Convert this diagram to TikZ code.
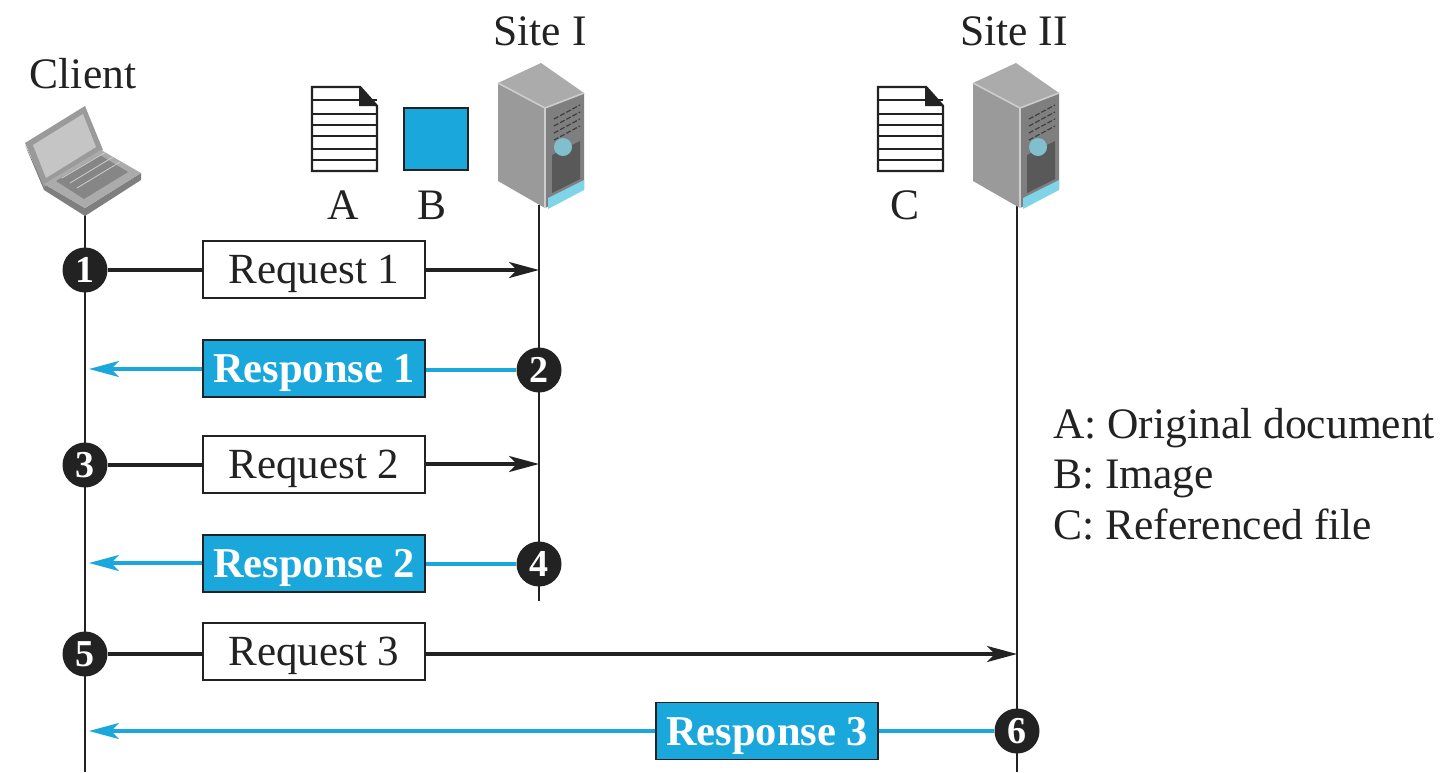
\documentclass[tikz,border=0pt]{standalone}
\usepackage{fontspec}
\setmainfont{Liberation Serif}
\usetikzlibrary{arrows.meta}
\definecolor{cy}{HTML}{1AA7DC}
\definecolor{ink}{HTML}{222222}
\definecolor{gA}{HTML}{ABABAB}
\definecolor{gB}{HTML}{9A9A9A}
\definecolor{gC}{HTML}{CDCDCD}
\definecolor{gD}{HTML}{7F7F7F}
\definecolor{lcy}{HTML}{7FD4E8}
\tikzset{
  x=1pt,y=-1pt,
  txt/.style={font=\fontsize{43.5}{46}\selectfont,text=ink,inner sep=0pt},
  reqbox/.style={draw=ink,line width=1.8pt,fill=white,minimum width=222pt,minimum height=57pt,font=\fontsize{43}{46}\selectfont,text=ink,inner sep=0pt,text height=28pt,text depth=0pt},
  resbox/.style={draw=ink,line width=1.8pt,fill=cy,minimum width=222pt,minimum height=57pt,font=\bfseries\fontsize{42.5}{46}\selectfont,text=white,inner sep=0pt,text height=28pt,text depth=0pt},
  numdot/.style={circle,fill=ink,minimum size=45pt,inner sep=0pt,font=\bfseries\fontsize{38}{40}\selectfont,text=white},
  life/.style={draw=ink,line width=1.7pt},
  blk/.style={draw=ink,line width=3.4pt},
  blu/.style={draw=cy,line width=3.6pt},
  blktip/.style={-{Stealth[length=30pt,width=16pt,inset=8pt]}},
  blutip/.style={-{Stealth[length=30pt,width=16pt,inset=8pt]}},
  docline/.style={draw=ink,line width=2pt},
}
\newcommand{\serverIcon}[2]{%
  \begin{scope}[shift={(#1,#2)}]
    \fill[gB] (0,20) -- (47,45) -- (47,145) -- (0,118) -- cycle;
    \fill[gA] (0,20) -- (43,0) -- (86,30) -- (47,45) -- cycle;
    \fill[gD] (47,45) -- (86,30) -- (86,126) -- (47,145) -- cycle;
    \draw[gC,line width=1.6pt] (0,20) -- (47,45) -- (86,30);
    \draw[gC,line width=1.6pt] (47,45) -- (47,145);
    \fill[ink!75] (54,92) -- (82,78) -- (82,116) -- (54,130) -- cycle;
    \fill[lcy!75!gray] (65,84) circle (9pt);
    \fill[lcy] (50,135) -- (86,117) -- (86,127) -- (50,146) -- cycle;
    \foreach \k in {0,7,14,21}{\draw[gD!50!black,line width=1.2pt,dash pattern=on 5pt off 2pt] (56,56+\k) -- (82,42+\k);}
  \end{scope}}
\newcommand{\docIcon}[2]{%
  \begin{scope}[shift={(#1,#2)}]
    \foreach \yy in {13,27,38,49,62,73}{\draw[docline] (0,\yy) -- (65,\yy);}
    \draw[docline,line width=2.4pt,fill=none] (0,0) -- (48,0) -- (65,19) -- (65,84) -- (0,84) -- cycle;
    \fill[ink] (47,0) -- (65,19) -- (47,19) -- cycle;
  \end{scope}}
\begin{document}
\begin{tikzpicture}
\useasboundingbox[fill=white] (0,0) rectangle (1444,772);

% lifelines ends
\coordinate (c0) at (85,212);
\coordinate (c1) at (85,772);
\coordinate (s0) at (539,205);
\coordinate (s1) at (539,601);
\coordinate (t0) at (1017,205);
\coordinate (t1) at (1017,772);
\draw[life] (c0) -- (c1);
\draw[life] (s0) -- (s1);
\draw[life] (t0) -- (t1);

% laptop
\fill[gD] (25,145) -- (44,190) -- (85,216) -- (141,180) -- (141,173) -- (85,208) -- (44,184) -- cycle;
\fill[gB] (25,143) -- (85,106) -- (103,150) -- (44,187) -- cycle;
\fill[gC!90!gray] (33,145) -- (83,114) -- (96,147) -- (46,178) -- cycle;
\fill[gA] (44,184) -- (101,150) -- (141,173) -- (85,208) -- cycle;
\fill[gD!75!gB] (56,181) -- (100,155) -- (128,172) -- (84,199) -- cycle;
\draw[gC,line width=.8pt] (62,178) -- (106,152) (70,183) -- (113,157) (77,188) -- (120,162);

% servers and files
\serverIcon{498}{63}
\serverIcon{973}{63}
\docIcon{312}{87}
\docIcon{878}{87}
\node[draw=ink,line width=2.2pt,fill=cy,minimum width=64pt,minimum height=62pt,inner sep=0pt] (imgB) at (436,139) {};

% labels
\node[txt,anchor=base] (lclient) at (83,88) {Client};
\node[txt,anchor=base] (lsite1) at (540,45) {Site I};
\node[txt,anchor=base] (lsite2) at (1014,45) {Site II};
\node[txt,anchor=base] (la) at (343,219) {A};
\node[txt,anchor=base] (lb) at (432,219) {B};
\node[txt,anchor=base] (lc) at (905,219) {C};
\node[txt,anchor=base west] (k1) at (1053,438) {A: Original document};
\node[txt,anchor=base west] (k2) at (1053,488) {B: Image};
\node[txt,anchor=base west] (k3) at (1053,539) {C: Referenced file};

% step dots
\node[numdot] (n1) at (85,270) {1};
\node[numdot] (n2) at (539,370) {2};
\node[numdot] (n3) at (85,465) {3};
\node[numdot] (n4) at (539,564) {4};
\node[numdot] (n5) at (85,654) {5};
\node[numdot] (n6) at (1017,731) {6};

% message boxes
\node[reqbox] (q1) at (314,269.5) {Request 1};
\node[resbox] (r1) at (314,368.5) {Response 1};
\node[reqbox] (q2) at (314,464.5) {Request 2};
\node[resbox] (r2) at (314,563.5) {Response 2};
\node[reqbox] (q3) at (314,651.5) {Request 3};
\node[resbox] (r3) at (767,731) {Response 3};

% arrow ends on lifelines
\coordinate (a1) at (539,270);
\coordinate (b1) at (89,369);
\coordinate (a2) at (539,464);
\coordinate (b2) at (89,563);
\coordinate (a3) at (1017,654);
\coordinate (b3) at (89,731);

% connectors
\draw[blk] (n1) -- (q1.west |- n1);
\draw[blk,blktip] (q1.east |- a1) -- (a1);
\draw[blu] (n2) -- (r1.east |- n2);
\draw[blu,blutip] (r1.west |- b1) -- (b1);
\draw[blk] (n3) -- (q2.west |- n3);
\draw[blk,blktip] (q2.east |- a2) -- (a2);
\draw[blu] (n4) -- (r2.east |- n4);
\draw[blu,blutip] (r2.west |- b2) -- (b2);
\draw[blk] (n5) -- (q3.west |- n5);
\draw[blk,blktip] (q3.east |- a3) -- (a3);
\draw[blu] (n6) -- (r3.east |- n6);
\draw[blu,blutip] (r3.west |- b3) -- (b3);
\end{tikzpicture}
\end{document}
